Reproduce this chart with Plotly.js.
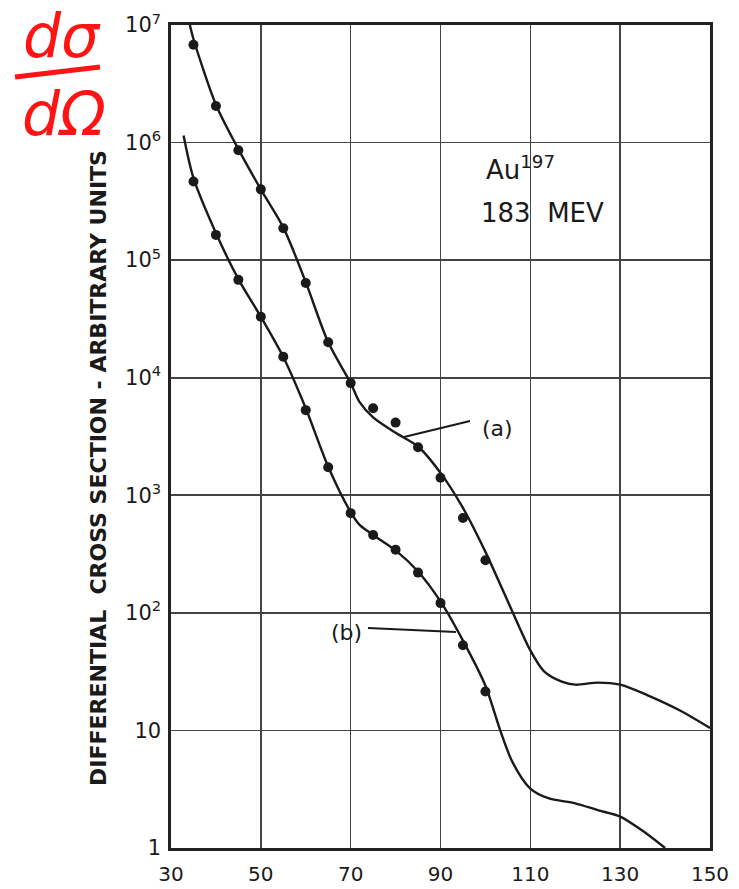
<!DOCTYPE html>
<html>
<head>
<meta charset="utf-8">
<script src="https://cdn.plot.ly/plotly-3.0.1.min.js"></script>
<style>html,body{margin:0;padding:0;background:#fff;}#chart{width:739px;height:889px;}</style>
</head>
<body>
<div id="chart"></div>
<script>
// Measured points, curve (a)
const aPointsX = [35, 40, 45, 50, 55, 60, 65, 70, 75, 80, 85, 90, 95, 100];
const aPointsY = [6.8e6, 2.05e6, 8.6e5, 4.0e5, 1.87e5, 6.4e4, 2.0e4, 9.0e3, 5.5e3, 4.15e3, 2.56e3, 1.41e3, 640, 280];
// Measured points, curve (b)
const bPointsX = [35, 40, 45, 50, 55, 60, 65, 70, 75, 80, 85, 90, 95, 100];
const bPointsY = [4.66e5, 1.64e5, 6.8e4, 3.3e4, 1.51e4, 5.3e3, 1.73e3, 705, 460, 344, 220, 121, 53, 21.4];
// Theoretical curve (a)
const aLineX = [34.2, 35, 40, 45, 50, 55, 60, 65, 70, 72, 75, 80, 85, 90, 95, 100, 105, 110, 113, 117, 120, 125, 130, 136, 143, 150];
const aLineY = [1e7, 7.6e6, 2.1e6, 8.8e5, 4.0e5, 1.9e5, 6.5e4, 2.0e4, 9.0e3, 6.2e3, 4.6e3, 3.4e3, 2.6e3, 1.55e3, 780, 330, 125, 48, 32, 26, 24.5, 25.5, 24.5, 20, 15, 10.5];
// Theoretical curve (b)
const bLineX = [32.8, 35, 40, 45, 50, 55, 60, 65, 70, 72, 75, 80, 85, 90, 95, 100, 103.3, 106, 110, 114, 120, 125, 130, 135, 140];
const bLineY = [1.15e6, 5.0e5, 1.7e5, 6.9e4, 3.3e4, 1.5e4, 5.5e3, 1.75e3, 720, 560, 460, 340, 225, 125, 58, 24, 10, 5.4, 3.2, 2.65, 2.4, 2.1, 1.85, 1.4, 1.0];
// Tick labels
const xTickVals = [30, 50, 70, 90, 110, 130, 150];
const xTickText = ['30', '50', '70', '90', '110', '130', '150'];
const yTickVals = [1, 10, 100, 1e3, 1e4, 1e5, 1e6, 1e7];
const yTickText = ['1', '10', '10<sup>2</sup>', '10<sup>3</sup>', '10<sup>4</sup>', '10<sup>5</sup>', '10<sup>6</sup>', '10<sup>7</sup>'];

const ink = '#1a1a1a';
const red = '#ff1414';
const L = 171, R = 710, T = 25, B = 848;
const px = x => (x - L) / (R - L);
const py = y => (B - y) / (B - T);

const traces = [
  {x: aLineX, y: aLineY, mode: 'lines', line: {color: ink, width: 2.4, shape: 'spline', smoothing: 0.8}, hoverinfo: 'skip'},
  {x: bLineX, y: bLineY, mode: 'lines', line: {color: ink, width: 2.4, shape: 'spline', smoothing: 0.8}, hoverinfo: 'skip'},
  {x: aPointsX, y: aPointsY, mode: 'markers', marker: {color: ink, size: 10}},
  {x: bPointsX, y: bPointsY, mode: 'markers', marker: {color: ink, size: 10}}
];

const fontMain = 'DejaVu Sans, Liberation Sans, sans-serif';
function ann(x, y, text, size, extra) {
  return Object.assign({xref: 'paper', yref: 'paper', x: px(x), y: py(y), text: text, showarrow: false,
    xanchor: 'center', yanchor: 'middle', font: {family: fontMain, size: size, color: ink}}, extra || {});
}
const layout = {
  width: 739, height: 889,
  margin: {l: L, r: 739 - R, t: T, b: 889 - B},
  paper_bgcolor: '#fff', plot_bgcolor: '#fff',
  showlegend: false,
  xaxis: {
    range: [30, 150], tickvals: xTickVals, ticktext: xTickText,
    showgrid: true, gridcolor: '#444', gridwidth: 1.6,
    showline: true, linecolor: '#222', linewidth: 2.6, mirror: true,
    ticks: '', zeroline: false, ticklabelstandoff: 6,
    tickfont: {family: fontMain, size: 20, color: ink}
  },
  yaxis: {
    type: 'log', range: [0, 7], tickvals: yTickVals, ticktext: yTickText,
    showgrid: true, gridcolor: '#444', gridwidth: 1.6,
    showline: true, linecolor: '#222', linewidth: 2.6, mirror: true,
    ticks: '', zeroline: false, ticklabelstandoff: 3,
    tickfont: {family: fontMain, size: 21, color: ink}
  },
  shapes: [
    {type: 'line', xref: 'paper', yref: 'paper', x0: px(470), y0: py(421), x1: px(404), y1: py(437), line: {color: ink, width: 2}},
    {type: 'line', xref: 'paper', yref: 'paper', x0: px(368), y0: py(628), x1: px(456), y1: py(632), line: {color: ink, width: 2}},
    {type: 'line', xref: 'paper', yref: 'paper', x0: px(15), y0: py(77), x1: px(100), y1: py(67), line: {color: red, width: 5}}
  ],
  annotations: [
    ann(98, 468, '<b>DIFFERENTIAL  CROSS SECTION - ARBITRARY UNITS</b>', 22, {textangle: -90}),
    ann(520, 168, 'Au<sup>197</sup>', 26),
    ann(542, 213, '183  MEV', 26),
    ann(497, 428, '(a)', 22),
    ann(346, 632, '(b)', 22),
    ann(62, 36, '<i>dσ</i>', 60, {font: {family: 'DejaVu Sans, sans-serif', size: 60, color: red}}),
    ann(64, 114, '<i>dΩ</i>', 60, {font: {family: 'DejaVu Sans, sans-serif', size: 60, color: red}})
  ]
};

Plotly.newPlot('chart', traces, layout, {staticPlot: true, displayModeBar: false});
</script>
</body>
</html>
